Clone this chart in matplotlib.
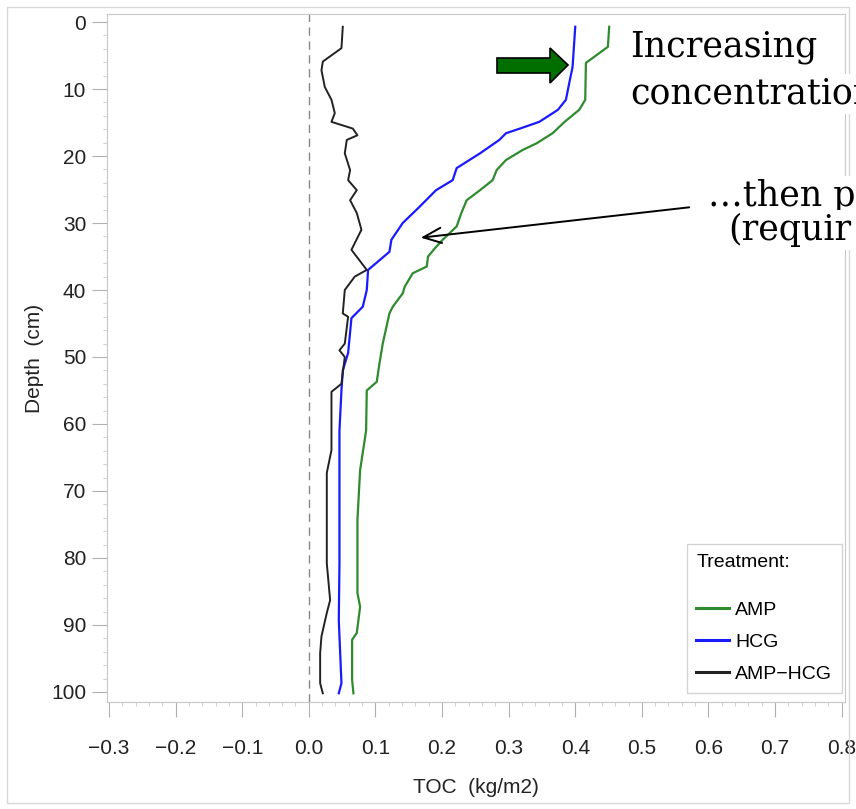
import matplotlib
matplotlib.use('Agg')
import matplotlib.pyplot as plt
from matplotlib.patches import Polygon, Rectangle
from matplotlib.ticker import MultipleLocator, FuncFormatter

# values
amp_depth = [0.7, 3.7, 6.1, 11.6, 13.1, 14.9, 16.6, 18.1, 19.1, 20.6, 22.1, 23.6, 25.1, 26.6,
             28.5, 30.5, 32.5, 33.8, 35, 36.5, 37.5, 39.5, 40.5, 42.5, 43.5, 48, 51, 53.7, 55,
             61, 66.9, 74.3, 85.2, 87.3, 91.2, 92.2, 98.2, 100.2]
amp_toc = [0.451, 0.449, 0.416, 0.415, 0.406, 0.384, 0.366, 0.342, 0.321, 0.296, 0.282, 0.276,
           0.257, 0.237, 0.229, 0.222, 0.201, 0.189, 0.179, 0.177, 0.156, 0.144, 0.141, 0.126,
           0.121, 0.111, 0.106, 0.102, 0.087, 0.086, 0.077, 0.073, 0.073, 0.077, 0.072, 0.065,
           0.065, 0.067]

hcg_depth = [0.7, 6.7, 9.1, 11.6, 13.1, 14.9, 15.9, 16.6, 17.6, 19.6, 21.8, 23.6, 25.1, 27.6,
             30.0, 32.5, 34.3, 37, 40, 42.5, 44.2, 49.4, 52, 55, 61, 67.9, 80.8, 89.3, 98.7, 100.2]
hcg_toc = [0.400, 0.396, 0.391, 0.386, 0.374, 0.346, 0.317, 0.296, 0.286, 0.257, 0.222, 0.216,
           0.191, 0.166, 0.141, 0.124, 0.121, 0.089, 0.087, 0.081, 0.064, 0.059, 0.051, 0.049,
           0.046, 0.046, 0.046, 0.045, 0.049, 0.045]

diff_depth = [0.7, 3.9, 5.9, 7.2, 9.7, 11.6, 13.6, 14.9, 15.9, 16.9, 17.6, 19.6, 22.1, 23.6,
              25.1, 26.6, 28.5, 31, 34, 37, 38, 40, 43.5, 44, 48, 49, 50, 54, 55.2, 61, 63.9,
              67.3, 80.8, 86.3, 88.2, 91.7, 94.2, 98.7, 100.2]
diff_toc = [0.051, 0.049, 0.021, 0.019, 0.024, 0.034, 0.039, 0.034, 0.066, 0.073, 0.057, 0.054,
            0.062, 0.059, 0.072, 0.062, 0.072, 0.079, 0.064, 0.087, 0.069, 0.054, 0.051, 0.059,
            0.054, 0.046, 0.054, 0.049, 0.034, 0.034, 0.034, 0.027, 0.027, 0.032, 0.027, 0.019,
            0.017, 0.017, 0.021]

labels = ['AMP', 'HCG', 'AMP\u2212HCG']
colors = ['#2e8b2e', '#1a1aff', '#222222']

W, H = 856, 809
SANS = ['Liberation Sans', 'DejaVu Sans']
SERIF = ['DejaVu Serif']


def px(x, y):
    return (x / W, 1 - y / H)


fig = plt.figure(figsize=(W / 100, H / 100), dpi=100)
ax = fig.add_axes([107 / W, (H - 702) / H, (845 - 107) / W, (702 - 14) / H])

ax.plot(amp_toc, amp_depth, color=colors[0], lw=1.6, label=labels[0])
ax.plot(hcg_toc, hcg_depth, color=colors[1], lw=1.6, label=labels[1])
ax.plot(diff_toc, diff_depth, color=colors[2], lw=1.4, label=labels[2])
ax.axvline(0, color='#888888', lw=1, ls=(0, (6, 4)))

ax.set_xlim(-0.303, 0.805)
ax.set_ylim(101.5, -1.2)
ax.xaxis.set_major_locator(MultipleLocator(0.1))
ax.xaxis.set_minor_locator(MultipleLocator(0.02))
ax.xaxis.set_major_formatter(FuncFormatter(lambda v, p: f'{round(v, 1) + 0.0:.1f}'.replace('-', '\u2212')))
ax.yaxis.set_major_locator(MultipleLocator(10))
ax.yaxis.set_minor_locator(MultipleLocator(2))

for s in ax.spines.values():
    s.set_color('#c8c8c8')
ax.tick_params(which='major', length=11, color='#b0b0b0', labelsize=15, labelcolor='#222222')
ax.tick_params(axis='x', which='major', pad=16)
ax.tick_params(axis='y', which='major', pad=4)
ax.tick_params(which='minor', length=3, color='#c8c8c8')
for lab in ax.get_xticklabels() + ax.get_yticklabels():
    lab.set_family(SANS)

ax.set_xlabel('TOC  (kg/m2)', family=SANS, fontsize=15, color='#222222', labelpad=14)
ax.set_ylabel('Depth  (cm)', family=SANS, fontsize=15, color='#222222', labelpad=5)

leg = ax.legend(title='Treatment:', loc='lower right', bbox_to_anchor=px(842, 693),
                bbox_transform=fig.transFigure, frameon=True, fancybox=False,
                prop={'family': SANS, 'size': 14}, handlelength=1.7, handletextpad=0.3,
                borderpad=0.5, labelspacing=0.75, borderaxespad=0, alignment='left')
leg.get_frame().set_edgecolor('#c8c8c8')
leg.get_frame().set_linewidth(1)
leg.get_title().set_family(SANS)
leg.get_title().set_fontsize(14)
leg._legend_box.sep = 22
for h in leg.get_lines():
    h.set_linewidth(2.2)

# green block arrow
arrow_px = [(497, 58), (550, 58), (550, 48), (568, 65), (550, 83), (550, 73), (497, 73)]
fig.patches.append(Polygon([px(x, y) for x, y in arrow_px], closed=True, transform=fig.transFigure,
                           facecolor='#006f00', edgecolor='black', lw=1.2))

# thin pointer arrow
ax.annotate('', xy=px(418, 238), xycoords='figure fraction', xytext=px(692, 207),
            textcoords='figure fraction',
            arrowprops=dict(arrowstyle='->,head_length=1.3,head_width=0.55', color='black', lw=1.4))

txt = dict(family=SERIF, fontsize=25, color='black', va='baseline', ha='left',
           transform=fig.transFigure,
           bbox=dict(facecolor='white', edgecolor='none', pad=2))
fig.text(*px(630, 57), 'Increasing', **txt)
fig.text(*px(630, 104), 'concentration', **txt)
fig.text(*px(708, 206), '\u2026then p', **txt)
fig.text(*px(728, 240), '(requir', **txt)

fig.patches.append(Rectangle((7 / W, 1 - 803 / H), 842 / W, 796 / H, transform=fig.transFigure,
                             fill=False, edgecolor='#d8d8d8', lw=1))

fig.savefig('out.png', dpi=100)
